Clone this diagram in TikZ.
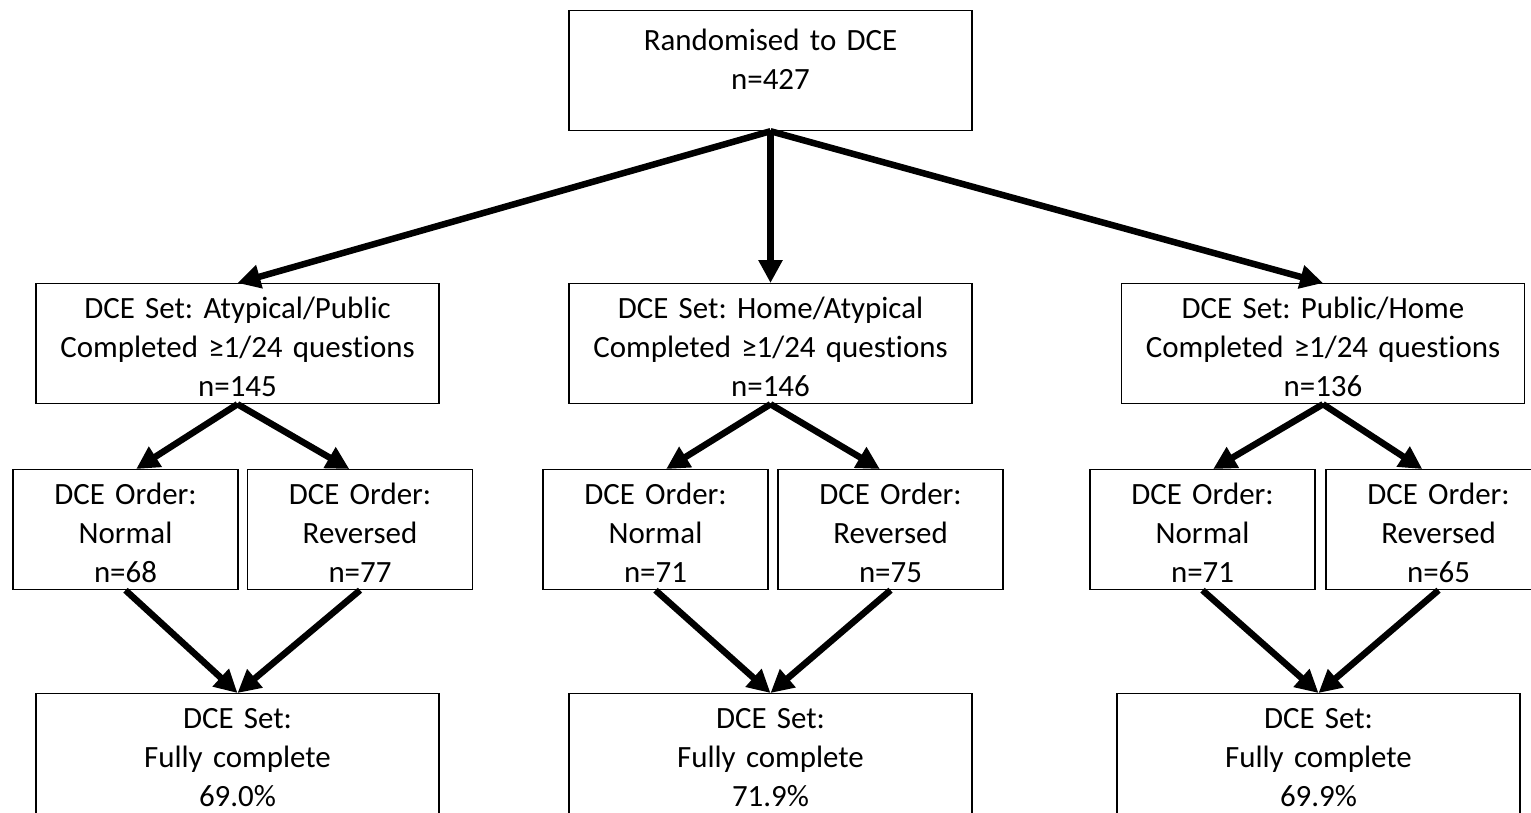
\documentclass[tikz,border=0pt]{standalone}
\usepackage{fontspec}
\setmainfont{Carlito}[Ligatures=NoCommon]
\usetikzlibrary{arrows.meta}
\frenchspacing

\tikzset{
	box/.style={draw,line width=0.7pt,inner sep=0pt,anchor=north,align=center,
		font=\fontsize{17.6}{22.2}\selectfont,text height=0.7cm,text depth=1.7cm},
	wide/.style={box,text width=8.06cm},
	narrow/.style={box,text width=4.5cm},
	link/.style={->,line width=3.7pt}
}

\begin{document}
\begin{tikzpicture}[x=0.02cm,y=-0.02cm,>={Triangle[length=13pt,width=13pt]}]

\useasboundingbox (0,0) rectangle (1531,812);

\node[wide,text height=0.8cm,text depth=1.6cm] (rand) at (770.5,10) {Randomised to DCE\\n=427};

\node[wide] (setA) at (237.5,283) {DCE Set: Atypical/Public\\Completed ≥1/24 questions\\n=145};
\node[wide] (setB) at (770.5,283) {DCE Set: Home/Atypical\\Completed ≥1/24 questions\\n=146};
\node[wide] (setC) at (1323,283) {DCE Set: Public/Home\\Completed ≥1/24 questions\\n=136};

\node[narrow] (normA) at (125.5,469) {DCE Order:\\Normal\\n=68};
\node[narrow] (revA) at (360,469) {DCE Order:\\Reversed\\n=77};
\node[narrow] (normB) at (655.5,469) {DCE Order:\\Normal\\n=71};
\node[narrow] (revB) at (890.5,469) {DCE Order:\\Reversed\\n=75};
\node[narrow] (normC) at (1202.5,469) {DCE Order:\\Normal\\n=71};
\node[narrow] (revC) at (1438.5,469) {DCE Order:\\Reversed\\n=65};

\node[wide] (fullA) at (237.5,693) {DCE Set:\\Fully complete\\69.0\%};
\node[wide] (fullB) at (770.5,693) {DCE Set:\\Fully complete\\71.9\%};
\node[wide] (fullC) at (1318.5,693) {DCE Set:\\Fully complete\\69.9\%};

\draw[link] (rand.south)--(setA.north);
\draw[link] (rand.south)--(setB.north);
\draw[link] (rand.south)--(setC.north);

\draw[link] (setA.south)--(normA.80);
\draw[link] (setA.south)--(revA.100);
\draw[link] (setB.south)--(normB.80);
\draw[link] (setB.south)--(revB.100);
\draw[link] (setC.south)--(normC.80);
\draw[link] (setC.south)--(revC.105);

\draw[link] (normA.south)--(fullA.north);
\draw[link] (revA.south)--(fullA.north);
\draw[link] (normB.south)--(fullB.north);
\draw[link] (revB.south)--(fullB.north);
\draw[link] (normC.south)--(fullC.north);
\draw[link] (revC.south)--(fullC.north);

\end{tikzpicture}
\end{document}
